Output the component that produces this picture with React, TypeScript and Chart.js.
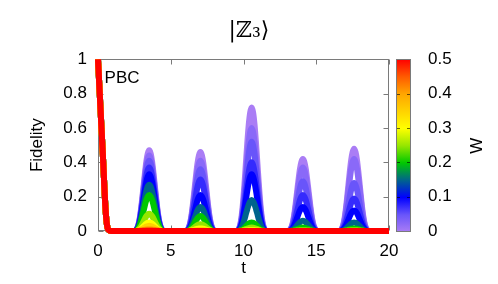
import { useEffect, useRef } from "react";
import { Chart, registerables } from "chart.js";
Chart.register(...registerables);

// ---- data ----
const W_VALUES = [0, 0.025, 0.05, 0.075, 0.1, 0.15, 0.2, 0.25, 0.3, 0.35, 0.4, 0.45, 0.5];
const REVIVAL_TIMES = [3.52, 7.04, 10.56, 14.08, 17.6];
// peak fidelity at each revival time, one row per W value
const PEAK_HEIGHTS = [
  [0.47, 0.46, 0.72, 0.42, 0.48],
  [0.44, 0.41, 0.6, 0.37, 0.42],
  [0.41, 0.36, 0.52, 0.29, 0.28],
  [0.37, 0.3, 0.4, 0.21, 0.19],
  [0.33, 0.21, 0.33, 0.14, 0.12],
  [0.27, 0.14, 0.18, 0.06, 0.05],
  [0.21, 0.087, 0.05, 0.02, 0.015],
  [0.1, 0.04, 0.02, 0.005, 0.005],
  [0.05, 0.015, 0.005, 0, 0],
  [0.03, 0.005, 0, 0, 0],
  [0.01, 0, 0, 0, 0],
  [0.005, 0, 0, 0, 0],
  [0, 0, 0, 0, 0],
];
// initial decay (shared by all W)
const DECAY_T = [0, 0.12, 0.24, 0.36, 0.47, 0.56, 0.65, 0.75, 0.9];
const DECAY_F = [1, 0.8, 0.6, 0.4, 0.2, 0.08, 0.02, 0.005, 0];
// relative shape of a revival peak around its centre
const BUMP_OFFSETS = [-1.0, -0.9, -0.8, -0.7, -0.6, -0.5, -0.4, -0.3, -0.2, -0.1, 0, 0.1, 0.2, 0.3, 0.4, 0.5, 0.6, 0.7, 0.8, 0.9, 1.0];
const BUMP_SHAPE = [0, 0.012, 0.045, 0.11, 0.22, 0.37, 0.54, 0.71, 0.86, 0.96, 1, 0.96, 0.86, 0.71, 0.54, 0.37, 0.22, 0.11, 0.045, 0.012, 0];
const T_END = 20;
const T_TICKS = [0, 5, 10, 15, 20];
const F_TICKS = [0, 0.2, 0.4, 0.6, 0.8, 1];
const W_TICKS = [0, 0.1, 0.2, 0.3, 0.4, 0.5];

// ---- styling ----
const PALETTE: [number, number[]][] = [
  [0, [170, 125, 245]],
  [0.05, [105, 85, 250]],
  [0.1, [0, 0, 255]],
  [0.15, [0, 100, 140]],
  [0.2, [0, 200, 0]],
  [0.25, [150, 230, 0]],
  [0.3, [255, 255, 0]],
  [0.35, [255, 210, 0]],
  [0.4, [255, 165, 0]],
  [0.45, [255, 90, 0]],
  [0.5, [255, 0, 0]],
];
function paletteColor(w: number): string {
  for (let i = 0; i < PALETTE.length - 1; i++) {
    const [a, ca] = PALETTE[i];
    const [b, cb] = PALETTE[i + 1];
    if (w <= b) {
      const f = (w - a) / (b - a);
      const c = ca.map((v, k) => Math.round(v + (cb[k] - v) * f));
      return `rgb(${c[0]},${c[1]},${c[2]})`;
    }
  }
  const c = PALETTE[PALETTE.length - 1][1];
  return `rgb(${c[0]},${c[1]},${c[2]})`;
}

const SANS = "'Liberation Sans', Arial, sans-serif";
const FS = 17;

function buildSeries(peaks: number[]) {
  const pts: { x: number; y: number }[] = [];
  DECAY_T.forEach((t, i) => pts.push({ x: t, y: DECAY_F[i] }));
  REVIVAL_TIMES.forEach((tc, k) => {
    const h = peaks[k];
    if (h <= 0) return;
    BUMP_OFFSETS.forEach((o, i) => pts.push({ x: tc + o, y: h * BUMP_SHAPE[i] }));
  });
  pts.push({ x: T_END, y: 0 });
  return pts;
}

const framePlugin = {
  id: "frame",
  beforeDatasetsDraw(chart: any) {
    const { ctx, chartArea: a, scales } = chart;
    ctx.save();
    ctx.strokeStyle = "#7a7a7a";
    ctx.lineWidth = 1;
    const L = Math.round(a.left) + 0.5,
      R = Math.round(a.right) - 0.5,
      T = Math.round(a.top) + 0.5,
      B = Math.round(a.bottom) - 0.5;
    ctx.strokeRect(L, T, R - L, B - T);
    ctx.beginPath();
    F_TICKS.forEach((v) => {
      const y = Math.round(scales.y.getPixelForValue(v)) + 0.5;
      ctx.moveTo(L, y);
      ctx.lineTo(L + 5, y);
      ctx.moveTo(R, y);
      ctx.lineTo(R - 5, y);
    });
    T_TICKS.forEach((v) => {
      const x = Math.round(scales.x.getPixelForValue(v)) + 0.5;
      ctx.moveTo(x, B);
      ctx.lineTo(x, B - 5);
      ctx.moveTo(x, T);
      ctx.lineTo(x, T + 5);
    });
    ctx.stroke();
    ctx.restore();
  },
  afterDatasetsDraw(chart: any) {
    const { ctx, scales } = chart;
    ctx.save();
    ctx.fillStyle = "#000";
    ctx.font = `${FS}px ${SANS}`;
    ctx.textAlign = "left";
    ctx.textBaseline = "middle";
    ctx.fillText("PBC", scales.x.getPixelForValue(0.45), scales.y.getPixelForValue(0.89));
    ctx.restore();
  },
  afterDraw(chart: any) {
    const { ctx, chartArea: a, scales } = chart;
    const s = scales.w;
    const x0 = Math.round(a.right) + 7;
    const x1 = x0 + 15;
    const yTop = s.getPixelForValue(0.5);
    const yBot = s.getPixelForValue(0) + 1;
    ctx.save();
    const g = ctx.createLinearGradient(0, yBot, 0, yTop);
    PALETTE.forEach(([w]) => g.addColorStop(w / 0.5, paletteColor(w)));
    ctx.fillStyle = g;
    ctx.fillRect(x0, yTop, x1 - x0, yBot - yTop);
    ctx.strokeStyle = "#7a7a7a";
    ctx.lineWidth = 1;
    ctx.strokeRect(x0 + 0.5, Math.round(yTop) + 0.5, x1 - x0 - 1, Math.round(yBot - yTop) - 1);
    ctx.strokeStyle = "rgba(0,0,0,0.6)";
    ctx.beginPath();
    W_TICKS.slice(1, -1).forEach((v) => {
      const y = Math.round(s.getPixelForValue(v)) + 0.5;
      ctx.moveTo(x0 + 1, y);
      ctx.lineTo(x0 + 4, y);
      ctx.moveTo(x1 - 1, y);
      ctx.lineTo(x1 - 4, y);
    });
    ctx.stroke();
    // colour-bar title
    ctx.fillStyle = "#000";
    ctx.font = `${FS}px ${SANS}`;
    ctx.textAlign = "center";
    ctx.textBaseline = "middle";
    ctx.translate(477, (yTop + yBot) / 2);
    ctx.rotate(-Math.PI / 2);
    ctx.fillText("W", 0, 0);
    ctx.restore();
  },
};

const fmt = (v: any) => String(Math.round(Number(v) * 1000) / 1000);

export default function App() {
  const ref = useRef<HTMLCanvasElement>(null);
  useEffect(() => {
    if (!ref.current) return;
    const datasets = W_VALUES.map((w, i) => ({
      label: `W=${w}`,
      data: buildSeries(PEAK_HEIGHTS[i]),
      borderColor: paletteColor(w),
      backgroundColor: paletteColor(w),
      borderWidth: 6,
      pointRadius: 0,
      cubicInterpolationMode: "monotone" as const,
      clip: 6,
      yAxisID: "y",
    })).reverse();
    const chart = new Chart(ref.current, {
      type: "line",
      data: { datasets },
      plugins: [framePlugin],
      options: {
        animation: false,
        responsive: false,
        events: [],
        layout: { padding: 0 },
        plugins: {
          legend: { display: false },
          tooltip: { enabled: false },
          title: {
            display: true,
            text: "|\u2124\u2083\u27E9",
            color: "#000",
            font: { size: 22, family: "'DejaVu Serif', 'Liberation Serif', serif", weight: "normal", lineHeight: 1.2 },
            padding: { top: 18, bottom: 15 },
          },
        },
        scales: {
          x: {
            type: "linear",
            min: 0,
            max: 20,
            afterBuildTicks: (s: any) => {
              s.ticks = T_TICKS.map((v) => ({ value: v }));
            },
            afterFit: (s: any) => {
              s.height = 53;
            },
            grid: { display: false, drawTicks: false },
            border: { display: false },
            ticks: { color: "#000", font: { size: FS, family: SANS }, padding: 10, maxRotation: 0, callback: fmt },
            title: { display: true, text: "t", color: "#000", font: { size: FS, family: SANS }, padding: { top: 0, bottom: 5 } },
          },
          y: {
            type: "linear",
            position: "left",
            min: 0,
            max: 1,
            afterBuildTicks: (s: any) => {
              s.ticks = F_TICKS.map((v) => ({ value: v }));
            },
            afterFit: (s: any) => {
              s.width = 98;
            },
            grid: { display: false, drawTicks: false },
            border: { display: false },
            ticks: { color: "#000", font: { size: FS, family: SANS }, padding: 11, callback: fmt },
            title: { display: true, text: "Fidelity", color: "#000", font: { size: FS, family: SANS }, padding: { top: 27, bottom: 0 } },
          },
          w: {
            type: "linear",
            position: "right",
            min: 0,
            max: 0.5,
            afterBuildTicks: (s: any) => {
              s.ticks = W_TICKS.map((v) => ({ value: v }));
            },
            afterFit: (s: any) => {
              s.width = 109;
            },
            grid: { display: false, drawTicks: false },
            border: { display: false },
            ticks: { color: "#000", font: { size: FS, family: SANS }, padding: 39, callback: fmt },
          },
        },
      },
    });
    return () => chart.destroy();
  }, []);
  return (
    <div style={{ position: "absolute", left: 0, top: 0, width: 498, height: 284, background: "#fff" }}>
      <canvas ref={ref} width={498} height={284} style={{ display: "block" }} />
    </div>
  );
}
